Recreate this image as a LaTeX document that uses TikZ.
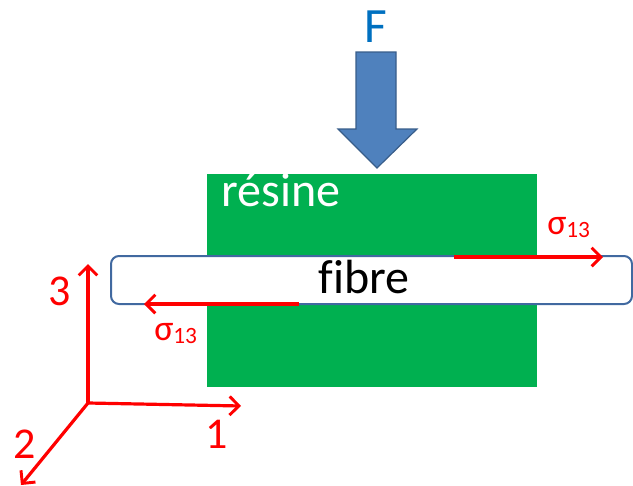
\documentclass[tikz,border=0pt]{standalone}
\usepackage{fontspec}
\setmainfont{Carlito}
\usetikzlibrary{arrows.meta}
\definecolor{resingreen}{RGB}{0,176,80}
\definecolor{fblue}{RGB}{0,112,192}
\definecolor{arrowfill}{RGB}{79,129,189}
\definecolor{arrowedge}{RGB}{56,93,138}
\definecolor{fibreedge}{RGB}{65,105,160}
\definecolor{sred}{RGB}{255,0,0}
\tikzset{
  px/.style={x=0.75pt,y=-0.75pt},
  redarrow/.style={draw=sred,line width=2.4pt,-{Straight Barb[length=7pt,width=14pt,line width=2.2pt]}},
  sigmalabel/.style={text=sred,inner sep=0pt,anchor=base west},
  axislabel/.style={text=sred,inner sep=0pt,anchor=base,font=\fontsize{33}{33}\selectfont},
  bigtext/.style={inner sep=0pt,anchor=base,font=\fontsize{36}{36}\selectfont}
}
\newcommand{\sigmatt}{{\fontsize{27}{27}\selectfont σ}{\fontsize{17.5}{17.5}\selectfont\raisebox{-2.5pt}{13}}}
\begin{document}
\begin{tikzpicture}[px]
\useasboundingbox (0,0) rectangle (633,486);
% resin block
\node (resin) [fill=resingreen,draw=none,minimum width=247.5pt,minimum height=159.75pt,inner sep=0pt] at (372,280.5) {};
\node (resinlbl) [bigtext,text=white] at (281,206) {résine};
% fibre
\node (fibre) [fill=white,draw=fibreedge,line width=1.5pt,rounded corners=6pt,minimum width=390.75pt,minimum height=36pt,inner sep=0pt] at (371.5,280) {};
\node (fibrelbl) [bigtext,text=black] at (364,293) {f\kern0pt ibre};
% force arrow
\node (Flbl) [inner sep=0pt,anchor=base,text=fblue,font=\fontsize{37}{37}\selectfont] at (376,42) {F};
\draw[fill=arrowfill,draw=arrowedge,line width=0.9pt,line join=miter]
  (356,52) -- (396,52) -- (396,129) -- (417,129) -- (377,168) -- (338,129) -- (356,129) -- cycle;
% shear stresses
\coordinate (s1a) at (454,257);
\coordinate (s1b) at (603,257);
\coordinate (s2a) at (299,304);
\coordinate (s2b) at (144,304);
\draw[redarrow] (s1a) -- (s1b);
\draw[redarrow] (s2a) -- (s2b);
\node (sig1) [sigmalabel] at (547,234) {\sigmatt};
\node (sig2) [sigmalabel] at (154,340) {\sigmatt};
% axes
\coordinate (O) at (88,403);
\coordinate (a3) at (88,264);
\coordinate (a1) at (241,406);
\coordinate (a2) at (21,485);
\draw[redarrow] (O) -- (a3);
\draw[redarrow] (O) -- (a1);
\draw[redarrow] (O) -- (a2);
\node (l3) [axislabel] at (60,305) {3};
\node (l1) [axislabel] at (217,448) {1};
\node (l2) [axislabel] at (25,458) {2};
\end{tikzpicture}
\end{document}
